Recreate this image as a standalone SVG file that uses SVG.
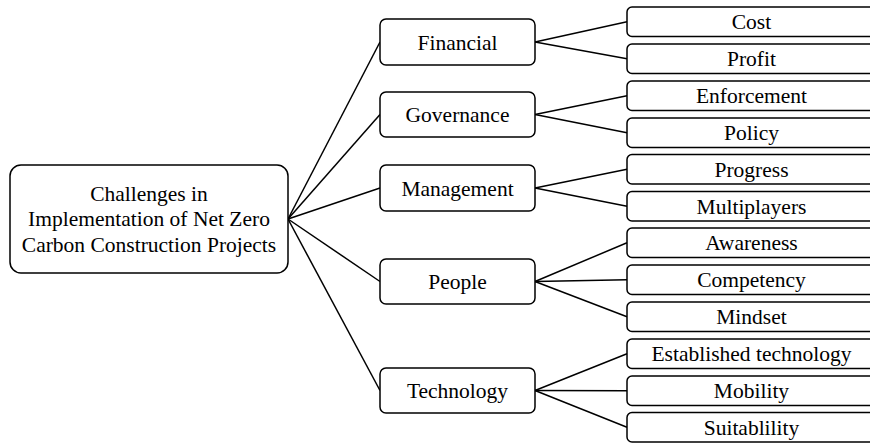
<svg xmlns="http://www.w3.org/2000/svg" width="870" height="443" viewBox="0 0 870 443">
<style>
.box{fill:#fff;stroke:#000;stroke-width:1.5}
.t{font-family:"Liberation Serif","Times New Roman",serif;font-size:21.5px;fill:#000;text-anchor:middle}
.c line{stroke:#000;stroke-width:1.5}
</style>
<rect width="870" height="443" fill="#fff"/>
<g class="c" id="connectors">
<line x1="288" y1="219" x2="380" y2="42"/>
<line x1="288" y1="219" x2="380" y2="114.5"/>
<line x1="288" y1="219" x2="380" y2="188"/>
<line x1="288" y1="219" x2="380" y2="281.5"/>
<line x1="288" y1="219" x2="380" y2="390.5"/>
<line x1="535" y1="42" x2="627" y2="21.75"/>
<line x1="535" y1="42" x2="627" y2="58.75"/>
<line x1="535" y1="114.5" x2="627" y2="95.75"/>
<line x1="535" y1="114.5" x2="627" y2="132.75"/>
<line x1="535" y1="188" x2="627" y2="169.25"/>
<line x1="535" y1="188" x2="627" y2="206.25"/>
<line x1="535" y1="281.5" x2="627" y2="242.75"/>
<line x1="535" y1="281.5" x2="627" y2="279.75"/>
<line x1="535" y1="281.5" x2="627" y2="316.75"/>
<line x1="535" y1="390.5" x2="627" y2="353.75"/>
<line x1="535" y1="390.5" x2="627" y2="390.75"/>
<line x1="535" y1="390.5" x2="627" y2="427.25"/>
</g>
<g id="root">
<rect class="box" x="10" y="165" width="278" height="108" rx="11"/>
<text class="t" x="149" y="200.5">Challenges in</text>
<text class="t" x="149" y="226">Implementation of Net Zero</text>
<text class="t" x="149" y="251.5">Carbon Construction Projects</text>
</g>
<g id="financial"><rect class="box" x="380" y="19" width="155" height="46" rx="6"/><text class="t" x="457.5" y="49.5">Financial</text></g>
<g id="governance"><rect class="box" x="380" y="92" width="155" height="45" rx="6"/><text class="t" x="457.5" y="122">Governance</text></g>
<g id="management"><rect class="box" x="380" y="165" width="155" height="46" rx="6"/><text class="t" x="457.5" y="195.5">Management</text></g>
<g id="people"><rect class="box" x="380" y="259" width="155" height="45" rx="6"/><text class="t" x="457.5" y="289">People</text></g>
<g id="technology"><rect class="box" x="380" y="368" width="155" height="45" rx="6"/><text class="t" x="457.5" y="398">Technology</text></g>
<g id="cost"><rect class="box" x="627" y="7" width="249" height="29.5" rx="5"/><text class="t" x="751.5" y="29.3">Cost</text></g>
<g id="profit"><rect class="box" x="627" y="44" width="249" height="29.5" rx="5"/><text class="t" x="751.5" y="66.3">Profit</text></g>
<g id="enforcement"><rect class="box" x="627" y="81" width="249" height="29.5" rx="5"/><text class="t" x="751.5" y="103.3">Enforcement</text></g>
<g id="policy"><rect class="box" x="627" y="118" width="249" height="29.5" rx="5"/><text class="t" x="751.5" y="140.3">Policy</text></g>
<g id="progress"><rect class="box" x="627" y="154.5" width="249" height="29.5" rx="5"/><text class="t" x="751.5" y="176.8">Progress</text></g>
<g id="multiplayers"><rect class="box" x="627" y="191.5" width="249" height="29.5" rx="5"/><text class="t" x="751.5" y="213.8">Multiplayers</text></g>
<g id="awareness"><rect class="box" x="627" y="228" width="249" height="29.5" rx="5"/><text class="t" x="751.5" y="250.3">Awareness</text></g>
<g id="competency"><rect class="box" x="627" y="265" width="249" height="29.5" rx="5"/><text class="t" x="751.5" y="287.3">Competency</text></g>
<g id="mindset"><rect class="box" x="627" y="302" width="249" height="29.5" rx="5"/><text class="t" x="751.5" y="324.3">Mindset</text></g>
<g id="established"><rect class="box" x="627" y="339" width="249" height="29.5" rx="5"/><text class="t" x="751.5" y="361.3">Established technology</text></g>
<g id="mobility"><rect class="box" x="627" y="376" width="249" height="29.5" rx="5"/><text class="t" x="751.5" y="398.3">Mobility</text></g>
<g id="suitability"><rect class="box" x="627" y="412.5" width="249" height="29.5" rx="5"/><text class="t" x="751.5" y="434.8">Suitablility</text></g>
</svg>
